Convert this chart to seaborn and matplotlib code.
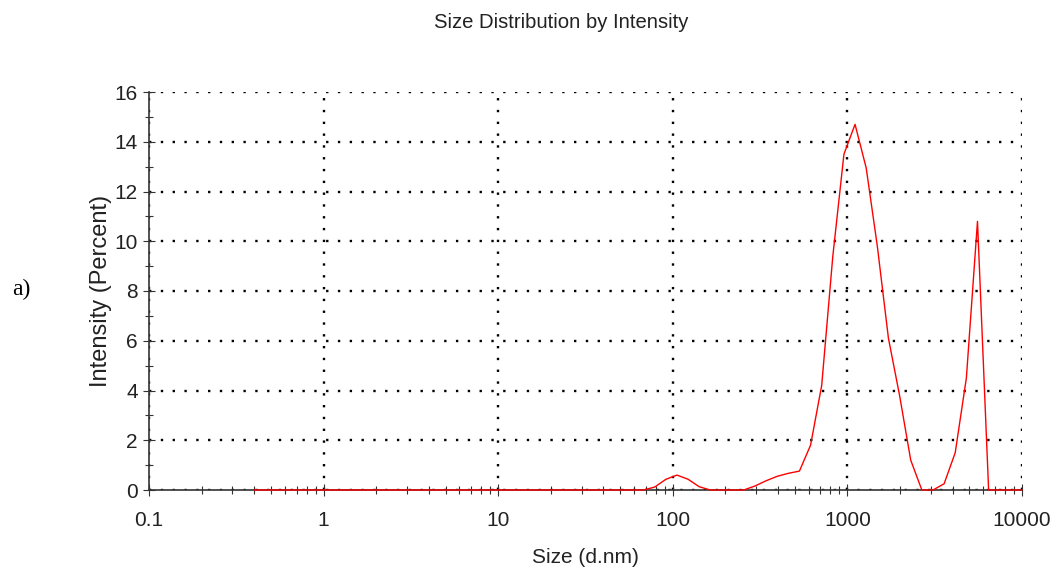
import numpy as np
import pandas as pd
import matplotlib
matplotlib.use("Agg")
import matplotlib.pyplot as plt
import matplotlib.ticker as mticker
import seaborn as sns

# ---- data ----
size_nm = [0.4000, 0.4632, 0.5365, 0.6213, 0.7195, 0.8332, 0.9649, 1.117, 1.294, 1.499,
           1.736, 2.010, 2.328, 2.696, 3.122, 3.615, 4.187, 4.849, 5.615, 6.503,
           7.531, 8.721, 10.10, 11.70, 13.54, 15.69, 18.17, 21.04, 24.36, 28.21,
           32.67, 37.84, 43.82, 50.75, 58.77, 68.06, 78.82, 91.28, 105.7, 122.4,
           141.8, 164.2, 190.1, 220.2, 255.0, 295.3, 342.0, 396.1, 458.7, 531.2,
           615.1, 712.4, 825.0, 955.4, 1106, 1281, 1484, 1718, 1990, 2305,
           2669, 3091, 3580, 4145, 4801, 5560, 6439, 7456, 8635, 10000]
intensity = [0, 0, 0, 0, 0, 0, 0, 0, 0, 0,
             0, 0, 0, 0, 0, 0, 0, 0, 0, 0,
             0, 0, 0, 0, 0, 0, 0, 0, 0, 0,
             0, 0, 0, 0, 0, 0, 0.12, 0.43, 0.6, 0.43,
             0.13, 0, 0, 0, 0, 0.16, 0.37, 0.55, 0.67, 0.76,
             1.8, 4.2, 9.4, 13.5, 14.7, 12.95, 9.8, 6.1, 3.8, 1.2,
             0, 0, 0.25, 1.5, 4.5, 10.8, 0, 0, 0, 0]
x_ticks = [0.1, 1, 10, 100, 1000, 10000]
x_tick_labels = ["0.1", "1", "10", "100", "1000", "10000"]
y_ticks = [0, 2, 4, 6, 8, 10, 12, 14, 16]
title = "Size Distribution by Intensity"
x_label = "Size (d.nm)"
y_label = "Intensity (Percent)"
panel_label = "a)"

df = pd.DataFrame({"size": size_nm, "intensity": intensity})

sns.set_theme(style="white")
plt.rcParams["font.family"] = ["Liberation Sans", "DejaVu Sans"]

fig = plt.figure(figsize=(10.54, 5.74), dpi=100)
ax = fig.add_axes([149 / 1054, 1 - 490 / 574, (1022 - 149) / 1054, (490 - 92) / 574])

sns.lineplot(data=df, x="size", y="intensity", ax=ax, color="#ff0000",
             linewidth=1.0, zorder=5)
ax.lines[0].set_clip_on(False)

ax.set_xscale("log")
ax.set_xlim(0.1, 10000)
ax.set_ylim(0, 16)

ax.xaxis.set_major_locator(mticker.FixedLocator(x_ticks))
ax.xaxis.set_major_formatter(mticker.FixedFormatter(x_tick_labels))
ax.xaxis.set_minor_locator(mticker.LogLocator(base=10, subs=np.arange(2, 10), numticks=20))
ax.xaxis.set_minor_formatter(mticker.NullFormatter())
ax.yaxis.set_major_locator(mticker.FixedLocator(y_ticks))
ax.yaxis.set_minor_locator(mticker.MultipleLocator(1))

ax.grid(which="major", color="black", linestyle=(0, (1, 4)), linewidth=1.7)
ax.grid(which="minor", visible=False)

for s in ["top", "right"]:
    ax.spines[s].set_visible(False)
for s in ["left", "bottom"]:
    ax.spines[s].set_color("#333333")
    ax.spines[s].set_linewidth(1.2)

ax.tick_params(axis="both", which="major", direction="inout", length=8,
               width=0.8, color="#333333", labelcolor="#222222", labelsize=15)
ax.tick_params(axis="both", which="minor", direction="inout", length=6,
               width=0.8, color="#333333")
ax.tick_params(axis="x", which="both", bottom=True)
ax.tick_params(axis="x", which="major", pad=11)
ax.tick_params(axis="y", which="both", left=True)
ax.tick_params(axis="y", which="major", pad=4)

ax.set_xlabel(x_label, fontsize=15, color="#222222", labelpad=13)
ax.set_ylabel(y_label, fontsize=17, color="#222222", labelpad=2)

fig.text(561 / 1054, 1 - 22 / 574, title, ha="center", va="center",
         fontsize=14.6, color="#222222")
fig.text(12 / 1054, 1 - 289 / 574, panel_label, ha="left", va="center",
         fontsize=17, family=["Liberation Serif", "DejaVu Serif"], color="black")

fig.savefig("out.png", dpi=100)
